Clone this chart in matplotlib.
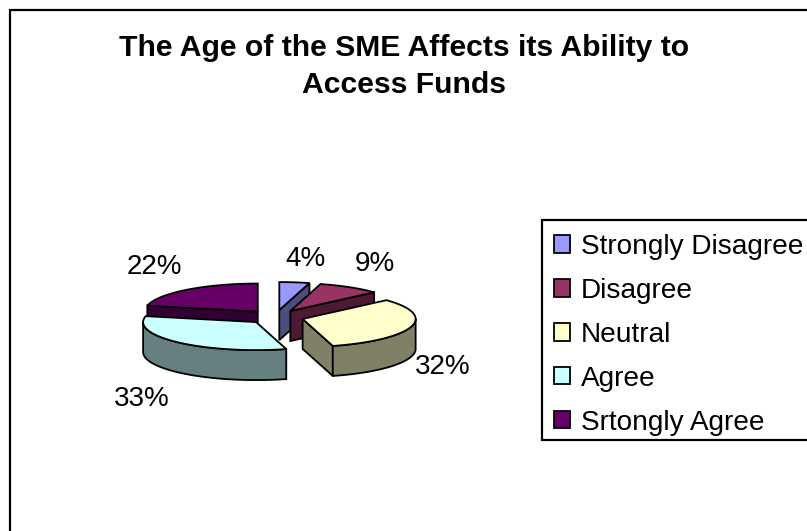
import numpy as np
import matplotlib
matplotlib.use('Agg')
import matplotlib.pyplot as plt
from matplotlib.patches import Patch, Polygon, Rectangle

plt.rcParams['font.family'] = ['Liberation Sans', 'DejaVu Sans']

title = 'The Age of the SME Affects its Ability to\nAccess Funds'
labels = ['Strongly Disagree', 'Disagree', 'Neutral', 'Agree', 'Srtongly Agree']
values = [4.3, 9.0, 32.4, 32.7, 21.6]
colors = ['#9999FF', '#993366', '#FFFFCC', '#CCFFFF', '#660066']
side_colors = ['#4D4D80', '#4D1933', '#808066', '#668080', '#330033']

# pie geometry in pixels
cx, cy = 275.5, 317
rx, ry = 113, 28
depth = 30
explode = 0.25
label_xy = [(305, 259), (375, 264), (443, 367), (142, 399), (154, 267)]


def arc_points(x0, y0, a0, a1, n=60):
    t = np.radians(np.linspace(a0, a1, n))
    return np.column_stack([x0 + rx*np.sin(t), y0 - ry*np.cos(t)])


def draw_slice(ax, i, a0, a1, z):
    mid = np.radians((a0 + a1)/2)
    x0 = cx + explode*rx*np.sin(mid)
    y0 = cy - explode*ry*np.cos(mid)
    arc = arc_points(x0, y0, a0, a1)
    apex = np.array([[x0, y0]])
    down = np.array([0, depth])
    # walls the viewer can see
    for end in [arc[0], arc[-1]]:
        edge = end - apex[0]
        inner = arc[len(arc)//2] - apex[0]
        cross = edge[0]*inner[1] - edge[1]*inner[0]
        # outward normal has to point down the picture
        normal = np.array([edge[1], -edge[0]])*np.sign(cross)
        if normal[1] > 0:
            wall = [apex[0], end, end + down, apex[0] + down]
            ax.add_patch(Polygon(wall, fc=side_colors[i], ec='k', lw=1.3, zorder=z))
    lo, hi = max(a0, 90), min(a1, 270)
    if lo < hi:
        rim = arc_points(x0, y0, lo, hi)
        wall = np.vstack([rim, rim[::-1] + down])
        ax.add_patch(Polygon(wall, fc=side_colors[i], ec='k', lw=1.3, zorder=z))
    top = np.vstack([apex, arc])
    ax.add_patch(Polygon(top, fc=colors[i], ec='k', lw=1.3, zorder=z+1))


fig = plt.figure(figsize=(8.07, 5.31), dpi=100)
ax = fig.add_axes([0, 0, 1, 1])
ax.set_xlim(0, 807)
ax.set_ylim(531, 0)
ax.axis('off')

# chart frame, runs off the right and bottom
ax.add_patch(Rectangle((10, 10), 900, 600, fc='white', ec='k', lw=1.6, zorder=0))

ax.text(404, 66.5, title, ha='center', va='center', fontsize=21.7, fontweight='bold',
        linespacing=1.45)

edges = np.cumsum([0] + values)*360.0/sum(values)
# back slices first so the front ones cover them
z = 2
for i in [4, 0, 1, 2, 3]:
    draw_slice(ax, i, edges[i], edges[i+1], z)
    z += 2

for i in range(len(values)):
    ax.text(label_xy[i][0], label_xy[i][1], '%d%%' % round(values[i]), ha='center', va='center',
            fontsize=20, zorder=20)

# legend box is cut off by the right edge of the picture
ax.add_patch(Rectangle((542, 220), 300, 220, fc='white', ec='k', lw=1.6, zorder=25))
handles = [Patch(fc=colors[i], ec='k', lw=1.3) for i in range(len(labels))]
leg = ax.legend(handles, labels, loc='upper left', bbox_to_anchor=(542/807, 1 - 222/531),
                bbox_transform=fig.transFigure, fontsize=20.2, frameon=False,
                handlelength=0.58, handleheight=0.58,
                handletextpad=0.38, labelspacing=0.64, borderaxespad=0, borderpad=0.42)
leg.set_zorder(30)

plt.savefig('out.png', format='png', dpi=100)
plt.close()
